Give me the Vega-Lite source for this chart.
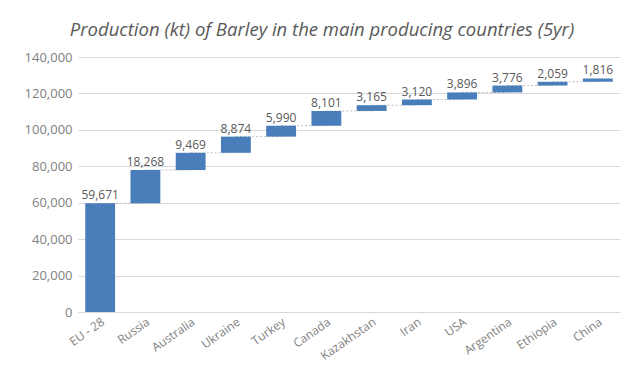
{
  "$schema": "https://vega.github.io/schema/vega-lite/v6.json",
  "autosize": {"type": "fit", "contains": "padding"},
  "width": 628,
  "height": 380,
  "padding": {"left": 24, "top": 20, "right": 8, "bottom": 18},
  "background": "white",
  "title": {
    "text": "Production (kt) of Barley in the main producing countries (5yr)",
    "font": "Open Sans",
    "fontStyle": "italic",
    "fontWeight": "normal",
    "fontSize": 18.5,
    "color": "#595959",
    "offset": 12,
    "frame": "bounds",
    "anchor": "middle"
  },
  "data": {
    "values": [
      {"country": "EU - 28", "value": 59671, "start": 0, "end": 59671, "next": "Russia"},
      {"country": "Russia", "value": 18268, "start": 59671, "end": 77939, "next": "Australia"},
      {"country": "Australia", "value": 9469, "start": 77939, "end": 87408, "next": "Ukraine"},
      {"country": "Ukraine", "value": 8874, "start": 87408, "end": 96282, "next": "Turkey"},
      {"country": "Turkey", "value": 5990, "start": 96282, "end": 102272, "next": "Canada"},
      {"country": "Canada", "value": 8101, "start": 102272, "end": 110373, "next": "Kazakhstan"},
      {"country": "Kazakhstan", "value": 3165, "start": 110373, "end": 113538, "next": "Iran"},
      {"country": "Iran", "value": 3120, "start": 113538, "end": 116658, "next": "USA"},
      {"country": "USA", "value": 3896, "start": 116658, "end": 120554, "next": "Argentina"},
      {"country": "Argentina", "value": 3776, "start": 120554, "end": 124330, "next": "Ethiopia"},
      {"country": "Ethiopia", "value": 2059, "start": 124330, "end": 126389, "next": "China"},
      {"country": "China", "value": 1816, "start": 126389, "end": 128205, "next": null}
    ]
  },
  "encoding": {
    "x": {
      "field": "country",
      "type": "nominal",
      "sort": null,
      "scale": {"paddingInner": 0.34, "paddingOuter": 0.16},
      "axis": {
        "title": null,
        "labelAngle": -35,
        "labelFont": "Open Sans",
        "labelFontSize": 12,
        "labelColor": "#7f7f7f",
        "ticks": false,
        "domainColor": "#d9d9d9",
        "labelPadding": 4
      }
    }
  },
  "layer": [
    {
      "transform": [{"filter": "datum.next != null"}],
      "mark": {"type": "rule", "color": "#bfbfbf", "strokeDash": [2, 2], "strokeWidth": 1},
      "encoding": {
        "x2": {"field": "next"},
        "y": {
          "field": "end",
          "type": "quantitative",
          "scale": {"domain": [0, 140000]},
          "axis": {
            "title": null,
            "values": [0, 20000, 40000, 60000, 80000, 100000, 120000, 140000],
            "format": ",d",
            "labelFont": "Open Sans",
            "labelFontSize": 13,
            "labelColor": "#7f7f7f",
            "domain": false,
            "ticks": false,
            "grid": true,
            "gridColor": "#d9d9d9",
            "labelPadding": 6
          }
        }
      }
    },
    {
      "mark": {"type": "bar", "color": "#4a7ebb"},
      "encoding": {
        "y": {
          "field": "start",
          "type": "quantitative",
          "scale": {"domain": [0, 140000]},
          "axis": {
            "title": null,
            "values": [0, 20000, 40000, 60000, 80000, 100000, 120000, 140000],
            "format": ",d",
            "labelFont": "Open Sans",
            "labelFontSize": 13,
            "labelColor": "#7f7f7f",
            "domain": false,
            "ticks": false,
            "grid": true,
            "gridColor": "#d9d9d9",
            "labelPadding": 6
          }
        },
        "y2": {"field": "end"}
      }
    },
    {
      "mark": {"type": "text", "dy": -8, "font": "Open Sans", "fontSize": 12, "color": "#595959"},
      "encoding": {
        "y": {
          "field": "end",
          "type": "quantitative",
          "scale": {"domain": [0, 140000]},
          "axis": {
            "title": null,
            "values": [0, 20000, 40000, 60000, 80000, 100000, 120000, 140000],
            "format": ",d",
            "labelFont": "Open Sans",
            "labelFontSize": 13,
            "labelColor": "#7f7f7f",
            "domain": false,
            "ticks": false,
            "grid": true,
            "gridColor": "#d9d9d9",
            "labelPadding": 6
          }
        },
        "text": {"field": "value", "type": "quantitative", "format": ","}
      }
    }
  ],
  "config": {"view": {"stroke": null}}
}
